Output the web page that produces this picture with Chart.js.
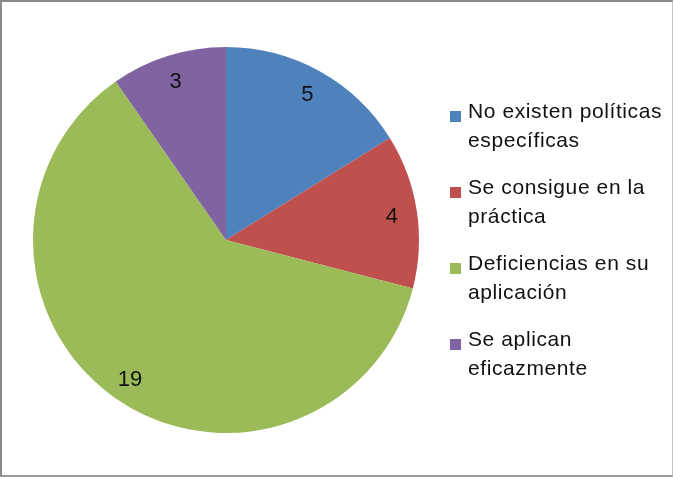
<!DOCTYPE html>
<html>
<head>
<meta charset="utf-8">
<script src="https://cdn.jsdelivr.net/npm/chart.js@4/dist/chart.umd.min.js"></script>
<style>
  html, body { margin: 0; padding: 0; background: #fff; }
  #wrap { position: relative; width: 673px; height: 477px; overflow: hidden; }
  #frame {
    position: absolute; left: 0; top: 0; width: 670px; height: 473px;
    border-top: 2px solid #8a8a8a; border-left: 2px solid #8a8a8a;
    border-right: 1px solid #c4c4c4; border-bottom: 2px solid #9a9a9a;
    pointer-events: none;
  }
  #legend { position: absolute; left: 450px; top: 96px; font-family: "Liberation Sans", Arial, sans-serif;
    font-size: 21px; letter-spacing: 0.6px; color: #111; }
  .item { position: relative; padding-left: 18px; line-height: 29px; margin-bottom: 18px; white-space: nowrap; }
  .box { position: absolute; left: 0; top: 15px; width: 11px; height: 11px; }
</style>
</head>
<body>
<div id="wrap">
  <canvas id="pie" width="673" height="477"></canvas>
  <div id="legend"></div>
  <div id="frame"></div>
</div>
<script>
const labels = [
  ['No existen políticas', 'específicas'],
  ['Se consigue en la', 'práctica'],
  ['Deficiencias en su', 'aplicación'],
  ['Se aplican', 'eficazmente']
];
const values = [5, 4, 19, 3];
const colors = ['#4f81bd', '#c0504d', '#9bbb59', '#8064a2'];

// draw the numbers inside each slice
const sliceLabels = {
  id: 'sliceLabels',
  afterDatasetsDraw(chart) {
    const ctx = chart.ctx;
    const meta = chart.getDatasetMeta(0);
    ctx.save();
    ctx.font = '22px "Liberation Sans", Arial, sans-serif';
    ctx.fillStyle = '#111';
    ctx.textAlign = 'center';
    ctx.textBaseline = 'middle';
    meta.data.forEach((arc, i) => {
      const mid = (arc.startAngle + arc.endAngle) / 2;
      const r = arc.outerRadius * 0.87;
      ctx.fillText(String(values[i]), arc.x + Math.cos(mid) * r, arc.y + 2 + Math.sin(mid) * r);
    });
    ctx.restore();
  }
};

new Chart(document.getElementById('pie').getContext('2d'), {
  type: 'pie',
  data: {
    labels: labels.map(l => l.join(' ')),
    datasets: [{ data: values, backgroundColor: colors, borderWidth: 0 }]
  },
  options: {
    responsive: false,
    animation: false,
    layout: { padding: { left: 33, top: 47, right: 254, bottom: 44 } },
    plugins: { legend: { display: false }, tooltip: { enabled: false } }
  },
  plugins: [sliceLabels]
});

const legendEl = document.getElementById('legend');
labels.forEach((lines, i) => {
  const item = document.createElement('div');
  item.className = 'item';
  const box = document.createElement('span');
  box.className = 'box';
  box.style.background = colors[i];
  item.appendChild(box);
  lines.forEach((t, j) => {
    if (j) item.appendChild(document.createElement('br'));
    item.appendChild(document.createTextNode(t));
  });
  legendEl.appendChild(item);
});
</script>
</body>
</html>
